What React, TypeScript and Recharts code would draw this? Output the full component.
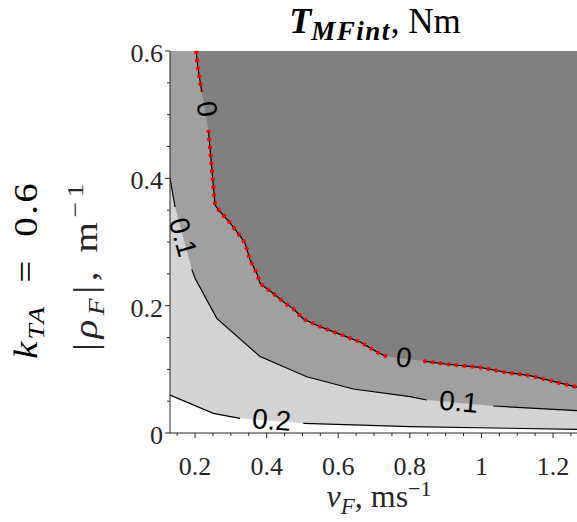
import React from 'react';
import { ComposedChart, Area, Line, XAxis, YAxis, ReferenceArea, ReferenceDot } from 'recharts';

const X_MIN = 0.13;
const X_MAX = 1.267;
const Y_MIN = 0;
const Y_MAX = 0.6;

const xTicks = [0.15, 0.2, 0.25, 0.3, 0.35, 0.4, 0.45, 0.5, 0.55, 0.6, 0.65, 0.7, 0.75, 0.8, 0.85, 0.9, 0.95, 1.0, 1.05, 1.1, 1.15, 1.2, 1.25];
const yTicks = [0, 0.05, 0.1, 0.15, 0.2, 0.25, 0.3, 0.35, 0.4, 0.45, 0.5, 0.55, 0.6];
const xMajor = [0.2, 0.4, 0.6, 0.8, 1, 1.2];
const yMajor = [0, 0.2, 0.4, 0.6];

// zero contour, split where the labels sit
const zeroA = [
  { x: 0.203, y: 0.6 },
  { x: 0.2075, y: 0.575 },
  { x: 0.2187, y: 0.536 },
];
const zeroB = [
  { x: 0.2372, y: 0.476 },
  { x: 0.2439, y: 0.434 },
  { x: 0.2511, y: 0.387 },
  { x: 0.2559, y: 0.358 },
  { x: 0.2679, y: 0.349 },
  { x: 0.2978, y: 0.33 },
  { x: 0.3304, y: 0.306 },
  { x: 0.3397, y: 0.298 },
  { x: 0.3536, y: 0.272 },
  { x: 0.3723, y: 0.251 },
  { x: 0.3816, y: 0.235 },
  { x: 0.4187, y: 0.219 },
  { x: 0.4514, y: 0.204 },
  { x: 0.4746, y: 0.195 },
  { x: 0.5025, y: 0.179 },
  { x: 0.5492, y: 0.167 },
  { x: 0.605, y: 0.155 },
  { x: 0.6609, y: 0.143 },
  { x: 0.712, y: 0.126 },
  { x: 0.7355, y: 0.12 },
];
const zeroC = [
  { x: 0.8377, y: 0.113 },
  { x: 0.9031, y: 0.108 },
  { x: 0.9961, y: 0.103 },
  { x: 1.0707, y: 0.095 },
  { x: 1.1358, y: 0.09 },
  { x: 1.2008, y: 0.081 },
  { x: 1.267, y: 0.072 },
];

// 0.1 contour
const pointOneA = [
  { x: 0.13, y: 0.4 },
  { x: 0.1441, y: 0.355 },
];
const pointOneB = [
  { x: 0.1908, y: 0.257 },
  { x: 0.2, y: 0.243 },
  { x: 0.2606, y: 0.18 },
  { x: 0.3816, y: 0.12 },
  { x: 0.512, y: 0.0884 },
  { x: 0.6422, y: 0.0691 },
  { x: 0.8006, y: 0.057 },
  { x: 0.8472, y: 0.0518 },
];
const pointOneC = [
  { x: 1.0332, y: 0.0424 },
  { x: 1.267, y: 0.035 },
];

// 0.2 contour
const pointTwoA = [
  { x: 0.13, y: 0.0597 },
  { x: 0.2511, y: 0.0309 },
  { x: 0.3257, y: 0.0231 },
];
const pointTwoB = [
  { x: 0.5025, y: 0.0152 },
  { x: 0.8006, y: 0.0099 },
  { x: 1.267, y: 0.0058 },
];

const contourLabels = [
  { x: 0.2335, y: 0.509, text: '0', angle: 80 },
  { x: 0.7832, y: 0.1186, text: '0', angle: 7 },
  { x: 0.1665, y: 0.3078, text: '0.1', angle: 74 },
  { x: 0.9369, y: 0.0492, text: '0.1', angle: 5 },
  { x: 0.4142, y: 0.0204, text: '0.2', angle: 4.5 },
];

const DARK = '#808080';
const MID = '#a0a0a0';
const LIGHT = '#d3d3d3';
const AXIS = '#262626';
const SERIF = '"Liberation Serif", "Times New Roman", serif';
const SANS = '"Liberation Sans", Arial, sans-serif';

const midFill = [{ x: X_MIN, y: Y_MAX }, ...zeroA, ...zeroB, ...zeroC];
const lightFill = [...pointOneA, ...pointOneB, ...pointOneC];
const whiteFill = [...pointTwoA, ...pointTwoB];

const near = (a: number, list: number[]) => list.some((m) => Math.abs(a - m) < 1e-6);
const fmt = (v: number) => String(Number(v.toFixed(2)));

const XTick = (props: any) => {
  const { x, y, payload } = props;
  const v = payload.value;
  const major = near(v, xMajor);
  return (
    <g>
      <line x1={x} x2={x} y1={y} y2={y + (major ? 5 : 3)} stroke={AXIS} strokeWidth={1} />
      {major && (
        <text x={x} y={y + 42} textAnchor="middle" fontFamily={SERIF} fontSize={26} fill="#262626">
          {fmt(v)}
        </text>
      )}
    </g>
  );
};

const YTick = (props: any) => {
  const { x, y, payload } = props;
  const v = payload.value;
  const major = near(v, yMajor);
  return (
    <g>
      <line x1={x} x2={x - (major ? 5 : 3)} y1={y} y2={y} stroke={AXIS} strokeWidth={1} />
      {major && (
        <text x={x - 7} y={y + 11} textAnchor="end" fontFamily={SERIF} fontSize={26} fill="#262626">
          {fmt(v)}
        </text>
      )}
    </g>
  );
};

const labelShape = (text: string, angle: number) => (p: any) => (
  <text
    x={p.cx}
    y={p.cy}
    transform={`rotate(${angle} ${p.cx} ${p.cy})`}
    textAnchor="middle"
    dominantBaseline="central"
    fontFamily={SANS}
    fontSize={28}
    fill="#000"
  >
    {text}
  </text>
);

const blackSegs = [zeroA, zeroB, zeroC, pointOneA, pointOneB, pointOneC, pointTwoA, pointTwoB];
const redSegs = [zeroA, zeroB, zeroC];

export default function App() {
  return (
    <div style={{ position: 'absolute', left: 0, top: 0, width: 577, height: 522, background: '#fff' }}>
      <ComposedChart width={577} height={522} margin={{ top: 51, right: 0, bottom: 0, left: 0 }}>
        <XAxis
          dataKey="x"
          type="number"
          domain={[X_MIN, X_MAX]}
          allowDataOverflow
          ticks={xTicks}
          interval={0}
          height={89}
          tickSize={0}
          tickMargin={0}
          tickLine={false}
          tick={<XTick />}
          axisLine={{ stroke: AXIS, strokeWidth: 1 }}
        />
        <YAxis
          dataKey="y"
          type="number"
          domain={[Y_MIN, Y_MAX]}
          allowDataOverflow
          ticks={yTicks}
          interval={0}
          width={170}
          tickSize={0}
          tickMargin={0}
          tickLine={false}
          tick={<YTick />}
          axisLine={{ stroke: AXIS, strokeWidth: 1 }}
        />
        <ReferenceArea x1={X_MIN} x2={X_MAX} y1={Y_MIN} y2={Y_MAX} fill={DARK} fillOpacity={1} stroke="none" />
        <Area data={midFill} dataKey="y" type="linear" fill={MID} fillOpacity={1} stroke="none" isAnimationActive={false} dot={false} activeDot={false} baseValue={0} />
        <Area data={lightFill} dataKey="y" type="linear" fill={LIGHT} fillOpacity={1} stroke="none" isAnimationActive={false} dot={false} activeDot={false} baseValue={0} />
        <Area data={whiteFill} dataKey="y" type="linear" fill="#ffffff" fillOpacity={1} stroke="none" isAnimationActive={false} dot={false} activeDot={false} baseValue={0} />
        {blackSegs.map((seg, i) => (
          <Line key={`b${i}`} data={seg} dataKey="y" type="linear" stroke="#000" strokeWidth={1.2} dot={false} activeDot={false} isAnimationActive={false} />
        ))}
        {redSegs.map((seg, i) => (
          <Line key={`r${i}`} data={seg} dataKey="y" type="linear" stroke="#ff0000" strokeWidth={4} strokeDasharray="3 5" dot={false} activeDot={false} isAnimationActive={false} />
        ))}
        {contourLabels.map((l, i) => (
          <ReferenceDot key={`l${i}`} x={l.x} y={l.y} r={0} shape={labelShape(l.text, l.angle)} />
        ))}
      </ComposedChart>
      <svg width={577} height={522} style={{ position: 'absolute', left: 0, top: 0, pointerEvents: 'none' }}>
        <text x={375} y={33} textAnchor="middle" fontFamily={SERIF} fill="#000">
          <tspan fontSize={36} fontWeight="bold" fontStyle="italic">T</tspan>
          <tspan fontSize={27} fontWeight="bold" fontStyle="italic" dy={7} letterSpacing={1.5}>MFint</tspan>
          <tspan fontSize={35} dy={-7}>, Nm</tspan>
        </text>
        <text x={379} y={507} textAnchor="middle" fontFamily={SERIF} fill="#262626">
          <tspan fontSize={32} fontStyle="italic">v</tspan>
          <tspan fontSize={23} fontStyle="italic" dy={7}>F</tspan>
          <tspan fontSize={32} dy={-7}>, ms</tspan>
          <tspan fontSize={22} dy={-11}>−1</tspan>
        </text>
        <text transform="translate(97,265) rotate(-90) scale(1.15,1)" textAnchor="middle" fontFamily={SERIF} fill="#262626" letterSpacing={4}>
          <tspan fontSize={34}>|</tspan>
          <tspan fontSize={34} fontStyle="italic">ρ</tspan>
          <tspan fontSize={24} fontStyle="italic" dy={7}>F</tspan>
          <tspan fontSize={34} dy={-7}>|, m</tspan>
          <tspan fontSize={24} dy={-14}>−1</tspan>
        </text>
        <text transform="translate(37,270) rotate(-90) scale(1.15,1)" textAnchor="middle" fontFamily={SERIF} fill="#000" letterSpacing={2}>
          <tspan fontSize={34} fontStyle="italic">k</tspan>
          <tspan fontSize={24} fontStyle="italic" dy={7}>TA</tspan>
          <tspan fontSize={34} dy={-7}>{'\u2002=\u20020.6'}</tspan>
        </text>
      </svg>
    </div>
  );
}
